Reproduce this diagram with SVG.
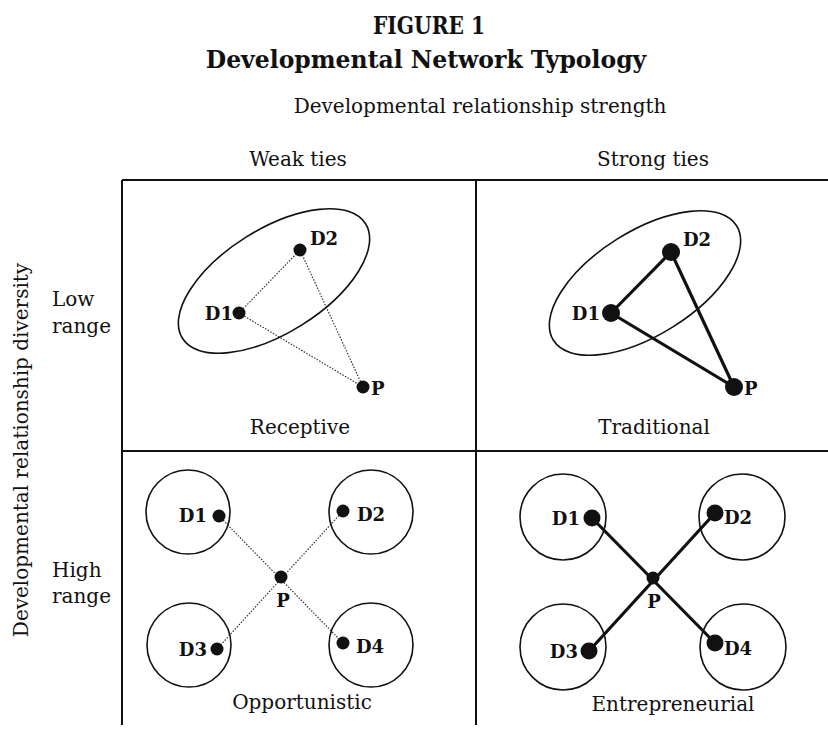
<svg xmlns="http://www.w3.org/2000/svg" width="828" height="730" viewBox="0 0 828 730">
<style>
text{font-family:"DejaVu Serif","Liberation Serif",serif;fill:#111}
.t{font-weight:bold;font-size:23.5px}
.h{font-size:20px}
.lab{font-weight:bold;font-size:18px}
.q{font-size:20px}
.grid{stroke:#111;stroke-width:2;fill:none}
.ring{stroke:#111;stroke-width:1.6;fill:none}
.weak{stroke:#333;stroke-width:1.2;stroke-dasharray:1.5 1.5;fill:none}
.strong{stroke:#111;stroke-width:3.2;fill:none;stroke-linecap:round}
.dot{fill:#111}
</style>
<rect width="828" height="730" fill="#fff"/>
<text class="t" x="429" y="34" text-anchor="middle" textLength="112" lengthAdjust="spacingAndGlyphs">FIGURE 1</text>
<text class="t" x="426" y="68" text-anchor="middle">Developmental Network Typology</text>
<text class="h" x="480" y="113" text-anchor="middle">Developmental relationship strength</text>
<text class="h" x="298" y="166" text-anchor="middle">Weak ties</text>
<text class="h" x="653" y="166" text-anchor="middle">Strong ties</text>
<text class="h" transform="translate(28,450) rotate(-90)" text-anchor="middle">Developmental relationship diversity</text>
<text class="h" x="52" y="306">Low</text>
<text class="h" x="52" y="333">range</text>
<text class="h" x="52" y="577">High</text>
<text class="h" x="52" y="603">range</text>
<g id="grid">
<path class="grid" d="M122,180 H828 M122,180 V725 M476,180 V725 M122,451 H828"/>
</g>
<g id="connectors">
<path class="weak" d="M239,313 L300,250 L363,387 Z"/>
<path class="strong" d="M611,313 L671,252 L734,387 Z"/>
<path class="weak" d="M219,516 L343,643 M343,511 L217,649"/>
<path class="strong" d="M592,518 L715,643 M715,513 L589,651"/>
</g>
<g id="receptive">
<ellipse class="ring" cx="274" cy="281" rx="108" ry="52" transform="rotate(-32 274 281)"/>
<circle class="dot" cx="300" cy="250" r="6.5"/>
<circle class="dot" cx="239" cy="313" r="6.5"/>
<circle class="dot" cx="363" cy="387" r="6.5"/>
<text class="lab" x="310" y="245">D2</text>
<text class="lab" x="233" y="320" text-anchor="end">D1</text>
<text class="lab" x="371" y="395">P</text>
<text class="q" x="300" y="434" text-anchor="middle">Receptive</text>
</g>
<g id="traditional">
<ellipse class="ring" cx="645" cy="283" rx="108" ry="52" transform="rotate(-32 645 283)"/>
<circle class="dot" cx="671" cy="252" r="9"/>
<circle class="dot" cx="611" cy="313" r="9"/>
<circle class="dot" cx="734" cy="387" r="9"/>
<text class="lab" x="683" y="246">D2</text>
<text class="lab" x="600" y="320" text-anchor="end">D1</text>
<text class="lab" x="744" y="395">P</text>
<text class="q" x="654" y="434" text-anchor="middle">Traditional</text>
</g>
<g id="opportunistic">
<circle class="ring" cx="188" cy="512" r="42"/>
<circle class="ring" cx="371" cy="512" r="42"/>
<circle class="ring" cx="189" cy="645" r="42"/>
<circle class="ring" cx="371" cy="645" r="42"/>
<circle class="dot" cx="219" cy="516" r="6.5"/>
<circle class="dot" cx="343" cy="511" r="6.5"/>
<circle class="dot" cx="281" cy="577" r="6.5"/>
<circle class="dot" cx="217" cy="649" r="6.5"/>
<circle class="dot" cx="343" cy="643" r="6.5"/>
<text class="lab" x="207" y="522" text-anchor="end">D1</text>
<text class="lab" x="357" y="521">D2</text>
<text class="lab" x="283" y="607" text-anchor="middle">P</text>
<text class="lab" x="207" y="656" text-anchor="end">D3</text>
<text class="lab" x="356" y="653">D4</text>
<text class="q" x="302" y="709" text-anchor="middle">Opportunistic</text>
</g>
<g id="entrepreneurial">
<circle class="ring" cx="563" cy="517" r="43"/>
<circle class="ring" cx="742" cy="517" r="43"/>
<circle class="ring" cx="563" cy="647" r="43"/>
<circle class="ring" cx="743" cy="647" r="43"/>
<circle class="dot" cx="592" cy="518" r="8.5"/>
<circle class="dot" cx="715" cy="513" r="8.5"/>
<circle class="dot" cx="653" cy="578" r="6.5"/>
<circle class="dot" cx="589" cy="651" r="8.5"/>
<circle class="dot" cx="715" cy="643" r="8.5"/>
<text class="lab" x="580" y="525" text-anchor="end">D1</text>
<text class="lab" x="724" y="524">D2</text>
<text class="lab" x="654" y="608" text-anchor="middle">P</text>
<text class="lab" x="578" y="658" text-anchor="end">D3</text>
<text class="lab" x="724" y="655">D4</text>
<text class="q" x="673" y="711" text-anchor="middle">Entrepreneurial</text>
</g>
</svg>
